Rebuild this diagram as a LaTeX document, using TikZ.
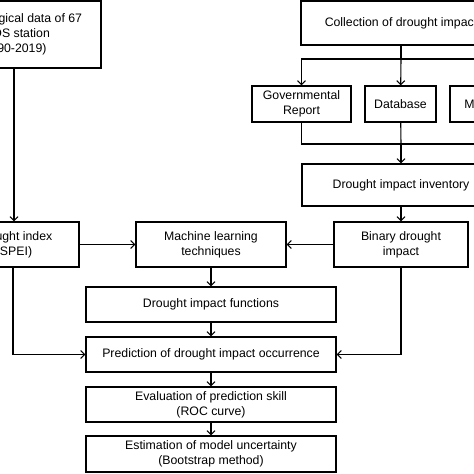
\documentclass[tikz,border=0pt]{standalone}
\usepackage{fontspec}
\setmainfont{Liberation Sans}
\usetikzlibrary{arrows.meta}
\begin{document}
\begin{tikzpicture}[x=1pt,y=-1pt,line width=1.1pt,
    box/.style={draw=black,align=center,inner sep=0pt,
      font=\fontsize{12.3}{15}\selectfont},
    arr/.style={-{Straight Barb[length=4pt,width=8pt]}}]
      \useasboundingbox (0,0) rectangle (474,474);
      \clip (0,0) rectangle (474,474);
      \begin{scope}[every node/.style={box}]
        \node[minimum width=176pt,minimum height=67pt] (met) at (13,34.5)
          {Meteorological data of 67\\ASOS station\\(1990-2019)};
        \node[minimum width=200pt,minimum height=44pt] (coll) at (401,23)
          {Collection of drought impact};
        \node[minimum width=99pt,minimum height=36pt] (gov) at (301.5,104)
          {Governmental\\Report};
        \node[minimum width=71pt,minimum height=36pt] (db) at (400.5,104)
          {Database};
        \node[minimum width=62pt,minimum height=36pt] (media) at (481,104)
          {Media};
        \node[minimum width=198pt,minimum height=42pt] (inv) at (401,185)
          {Drought impact inventory};
        \node[minimum width=130pt,minimum height=45pt] (index) at (14,244.5)
          {Drought index\\(SPEI)};
        \node[minimum width=150pt,minimum height=45pt] (ml) at (211,244.5)
          {Machine learning\\techniques};
        \node[minimum width=134pt,minimum height=45pt] (binary) at (401,244.5)
          {Binary drought\\impact};
        \node[minimum width=250pt,minimum height=35pt] (func) at (211,304.5)
          {Drought impact functions};
        \node[minimum width=250pt,minimum height=35pt] (pred) at (211,354.5)
          {Prediction of drought impact occurrence};
        \node[minimum width=250pt,minimum height=35pt] (eval) at (211,404.5)
          {Evaluation of prediction skill\\(ROC curve)};
        \node[minimum width=250pt,minimum height=36pt] (est) at (211,454)
          {Estimation of model uncertainty\\(Bootstrap method)};
      \end{scope}
      \coordinate (split) at (401,59);
      \coordinate (join) at (401,144);
      \coordinate (left) at (13,354.5);
      \coordinate (right) at (401,354.5);
      \begin{scope}[every path/.style={draw=black}]
        \draw (coll) -- (split);
        \draw[arr] (split) -| (gov);
        \draw[arr] (split) -- (db);
        \draw[arr] (split) -| (media);
        \draw (gov) |- (join);
        \draw (media) |- (join);
        \draw (db) -- (join);
        \draw[arr] (join) -- (inv);
        \draw[arr] (inv) -- (binary);
        \draw[arr] (met.south -| index) -- (index);
        \draw[arr] (index) -- (ml);
        \draw[arr] (binary) -- (ml);
        \draw[arr] (ml) -- (func);
        \draw[arr] (func) -- (pred);
        \draw[arr] (index.south -| left) -- (left) -- (pred);
        \draw[arr] (binary) -- (right) -- (pred);
        \draw[arr] (pred) -- (eval);
        \draw[arr] (eval) -- (est);
      \end{scope}
    \end{tikzpicture}
\end{document}
